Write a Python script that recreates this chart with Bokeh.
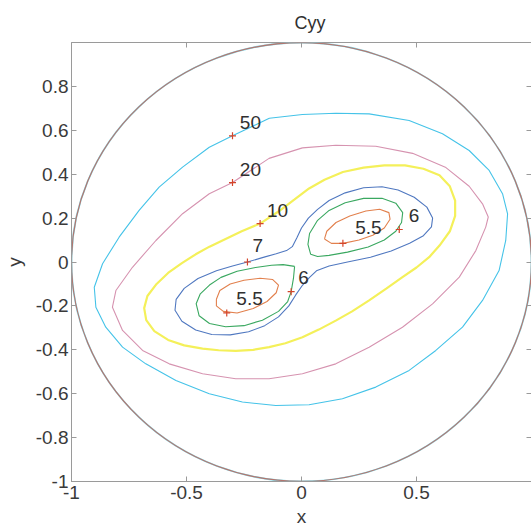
from bokeh.plotting import figure
from bokeh.models import Range1d, FixedTicker, LinearAxis, CustomJSTickFormatter
from bokeh.core.properties import value
from bokeh.embed import file_html
from bokeh.resources import INLINE

# ---- data ----
x_ticks = [-1, -0.5, 0, 0.5]
y_ticks = [-1, -0.8, -0.6, -0.4, -0.2, 0, 0.2, 0.4, 0.6, 0.8]

c50_x = [0.149, 0.004, -0.140, -0.300, -0.401, -0.517, -0.619, -0.706, -0.793, -0.865, -0.901, -0.894,
         -0.851, -0.778, -0.677, -0.546, -0.401, -0.257, -0.112, 0.033, 0.178, 0.323, 0.468, 0.584,
         0.700, 0.787, 0.859, 0.888, 0.896, 0.874, 0.816, 0.729, 0.613, 0.468, 0.294, 0.149]
c50_y = [0.678, 0.672, 0.655, 0.575, 0.523, 0.432, 0.341, 0.235, 0.113, -0.008, -0.115, -0.206,
         -0.297, -0.388, -0.464, -0.540, -0.600, -0.638, -0.654, -0.650, -0.623, -0.570, -0.494, -0.403,
         -0.297, -0.175, -0.039, 0.098, 0.219, 0.311, 0.417, 0.508, 0.584, 0.645, 0.675, 0.678]

c20_x = [0.004, 0.149, 0.323, 0.483, 0.628, 0.729, 0.787, 0.812, 0.801, 0.758, 0.686, 0.570, 0.439,
         0.294, 0.149, 0.004, -0.141, -0.286, -0.430, -0.575, -0.691, -0.778, -0.822, -0.807, -0.735,
         -0.633, -0.517, -0.401, -0.300, -0.141, 0.004]
c20_y = [0.520, 0.532, 0.527, 0.495, 0.430, 0.345, 0.265, 0.205, 0.159, 0.052, -0.069, -0.191, -0.297,
         -0.388, -0.464, -0.509, -0.532, -0.532, -0.509, -0.464, -0.403, -0.312, -0.206, -0.130, -0.024,
         0.098, 0.220, 0.311, 0.362, 0.472, 0.520]

c10_x = [-0.180, -0.100, -0.030, 0.033, 0.100, 0.180, 0.270, 0.360, 0.450, 0.530, 0.600, 0.645, 0.668,
         0.668, 0.645, 0.600, 0.555, 0.500, 0.439, 0.370, 0.294, 0.220, 0.149, 0.075, 0.004, -0.070,
         -0.141, -0.210, -0.286, -0.360, -0.430, -0.510, -0.580, -0.640, -0.675, -0.684, -0.670, -0.630,
         -0.580, -0.520, -0.460, -0.400, -0.330, -0.260, -0.180]
c10_y = [0.175, 0.230, 0.285, 0.335, 0.375, 0.410, 0.430, 0.440, 0.440, 0.425, 0.395, 0.345, 0.280,
         0.210, 0.140, 0.075, 0.022, -0.025, -0.069, -0.120, -0.175, -0.225, -0.267, -0.308, -0.343, -0.370,
         -0.388, -0.400, -0.405, -0.402, -0.395, -0.380, -0.355, -0.315, -0.265, -0.210, -0.155, -0.100,
         -0.050, -0.005, 0.035, 0.070, 0.105, 0.140, 0.175]

c7_x = [-0.235, -0.170, -0.110, -0.065, -0.040, -0.020, 0.000, 0.030, 0.070, 0.120, 0.190, 0.270, 0.350,
        0.420, 0.490, 0.545, 0.570, 0.565, 0.530, 0.470, 0.390, 0.300, 0.200, 0.120, 0.065, 0.035, 0.005,
        -0.025, -0.055, -0.100, -0.160, -0.230, -0.310, -0.390, -0.460, -0.520, -0.550, -0.545, -0.510,
        -0.450, -0.370, -0.300, -0.235]
c7_y = [0.000, 0.020, 0.038, 0.052, 0.070, 0.110, 0.155, 0.200, 0.240, 0.280, 0.315, 0.338, 0.343,
        0.328, 0.295, 0.250, 0.200, 0.160, 0.120, 0.085, 0.050, 0.022, 0.000, -0.018, -0.040, -0.070, -0.105,
        -0.150, -0.200, -0.250, -0.290, -0.318, -0.332, -0.330, -0.310, -0.270, -0.220, -0.170, -0.120,
        -0.075, -0.040, -0.018, 0.000]

c6a_x = [-0.030, -0.080, -0.130, -0.200, -0.280, -0.350, -0.400, -0.440, -0.458, -0.445, -0.400, -0.330,
         -0.250, -0.170, -0.100, -0.060, -0.045, -0.035, -0.030]
c6a_y = [-0.020, -0.012, -0.015, -0.025, -0.042, -0.070, -0.105, -0.145, -0.190, -0.245, -0.280, -0.295,
         -0.290, -0.265, -0.225, -0.180, -0.135, -0.075, -0.020]
c6b_x = [0.040, 0.028, 0.035, 0.070, 0.120, 0.190, 0.270, 0.350, 0.410, 0.440, 0.435, 0.410, 0.360,
         0.290, 0.200, 0.120, 0.070, 0.040]
c6b_y = [0.035, 0.080, 0.130, 0.190, 0.235, 0.270, 0.290, 0.290, 0.268, 0.225, 0.180, 0.140, 0.100,
         0.068, 0.045, 0.030, 0.025, 0.035]

c55a_x = [-0.370, -0.355, -0.310, -0.250, -0.180, -0.125, -0.100, -0.110, -0.150, -0.210, -0.280, -0.340,
          -0.370, -0.370]
c55a_y = [-0.170, -0.130, -0.100, -0.083, -0.074, -0.080, -0.105, -0.140, -0.180, -0.212, -0.232, -0.225,
          -0.200, -0.170]
c55b_x = [0.100, 0.110, 0.150, 0.210, 0.280, 0.340, 0.380, 0.385, 0.360, 0.310, 0.250, 0.180, 0.130, 0.100]
c55b_y = [0.105, 0.140, 0.180, 0.210, 0.232, 0.240, 0.225, 0.195, 0.155, 0.122, 0.100, 0.085, 0.085, 0.105]

label_text = ["50", "20", "10", "7", "6", "6", "5.5", "5.5"]
label_x = [-0.222, -0.222, -0.104, -0.190, 0.009, 0.489, -0.226, 0.291]
label_y = [0.636, 0.421, 0.235, 0.075, -0.070, 0.212, -0.167, 0.155]
marker_x = [-0.300, -0.300, -0.180, -0.235, -0.045, 0.425, -0.325, 0.180]
marker_y = [0.575, 0.362, 0.175, 0.000, -0.135, 0.148, -0.232, 0.085]

FONT = "Liberation Sans"

p = figure(width=531, height=528, output_backend="svg", toolbar_location=None,
           x_range=Range1d(-1, 1), y_range=Range1d(-1, 1),
           frame_width=460, frame_height=439,
           min_border_left=69, min_border_right=2, min_border_top=42, min_border_bottom=47,
           background_fill_color="white", border_fill_color="white")
p.grid.visible = False
p.outline_line_color = "#9a9a9a"
p.outline_line_width = 1

p.title.text = "Cyy"
p.title.text_font = FONT
p.title.text_font_size = "18px"
p.title.text_font_style = "normal"
p.title.text_color = "#303030"
p.title.align = "left"
p.title.offset = 223
p.title.standoff = 20

fmt = CustomJSTickFormatter(code="return String(tick);")
for ax, ticks in ((p.xaxis[0], x_ticks), (p.yaxis[0], y_ticks)):
    ax.ticker = FixedTicker(ticks=ticks)
    ax.formatter = fmt
    ax.major_tick_in = 5
    ax.major_tick_out = 0
    ax.minor_tick_line_color = None
    ax.axis_line_color = "#9a9a9a"
    ax.major_tick_line_color = "#9a9a9a"
    ax.major_label_text_font = FONT
    ax.major_label_text_font_size = "19px"
    ax.major_label_text_color = "#3a3a3a"
    ax.axis_label_text_font = FONT
    ax.axis_label_text_font_size = "19px"
    ax.axis_label_text_font_style = "normal"
    ax.axis_label_text_color = "#3a3a3a"
p.xaxis[0].axis_label = "x"
p.yaxis[0].axis_label = "y"
p.xaxis[0].major_label_standoff = 4
p.yaxis[0].major_label_standoff = 3
p.xaxis[0].axis_label_standoff = 4
p.yaxis[0].axis_label_standoff = 8

blank = CustomJSTickFormatter(code="return '';")
for loc, ticks in (("right", y_ticks), ("above", x_ticks)):
    ax = LinearAxis(ticker=FixedTicker(ticks=ticks), formatter=blank,
                    major_tick_in=5, major_tick_out=0, minor_tick_line_color=None,
                    axis_line_color=None, major_tick_line_color="#9a9a9a", major_label_standoff=0)
    p.add_layout(ax, loc)

# boundary (crowded outer contours)
p.ellipse(x=0, y=0, width=2, height=2, fill_color=None, line_color="#86dcea", line_width=1.8)
p.ellipse(x=0, y=0, width=2, height=2, fill_color=None, line_color="#b86a62", line_width=1.2, line_alpha=0.9)

p.line(c50_x, c50_y, line_color="#45c3e8", line_width=1.1)
p.line(c20_x, c20_y, line_color="#d693b0", line_width=1.1)
p.line(c10_x, c10_y, line_color="#f4f05a", line_width=2.2)
p.line(c7_x, c7_y, line_color="#5078c0", line_width=1.1)
p.line(c6a_x, c6a_y, line_color="#3aa860", line_width=1.1)
p.line(c6b_x, c6b_y, line_color="#3aa860", line_width=1.1)
p.line(c55a_x, c55a_y, line_color="#e2804d", line_width=1.1)
p.line(c55b_x, c55b_y, line_color="#e2804d", line_width=1.1)

p.scatter(marker_x, marker_y, marker="cross", size=7, line_color="#d4452a", line_width=1.2)
p.text(label_x, label_y, text=label_text, text_font=value(FONT), text_font_size="19px",
       text_align="center", text_baseline="middle", text_color="#303030")

open("out.html", "w").write(file_html(p, INLINE))
